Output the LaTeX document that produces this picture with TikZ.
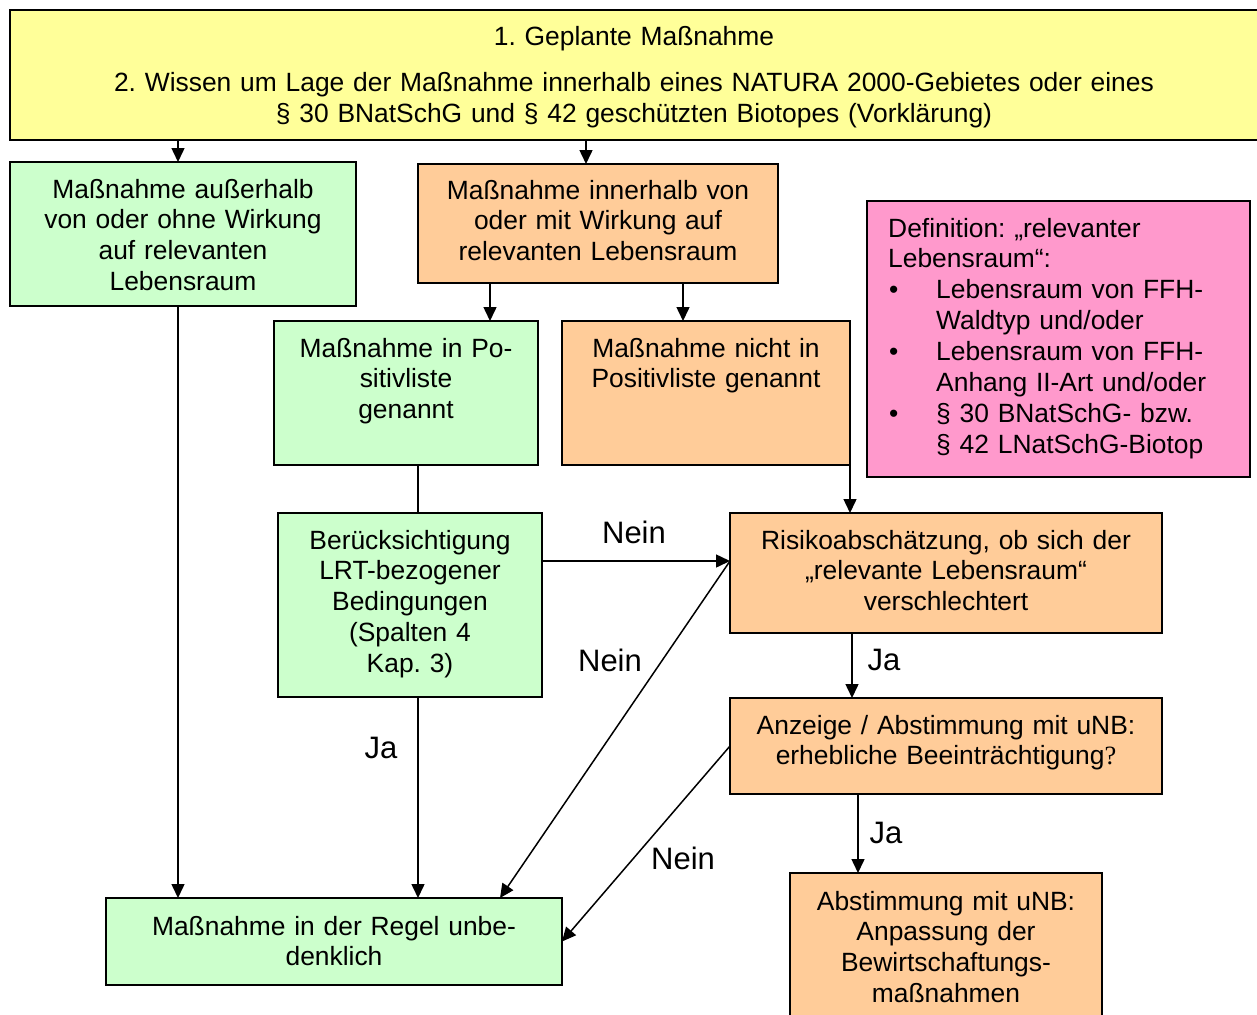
\documentclass[tikz,border=0pt]{standalone}
\usepackage{fontspec}
\setmainfont{Liberation Sans}
\newfontfamily\qfont{Liberation Serif}
\usetikzlibrary{arrows.meta}
\definecolor{cyellow}{HTML}{FFFF99}
\definecolor{cgreen}{HTML}{CCFFCC}
\definecolor{corange}{HTML}{FFCC99}
\definecolor{cpink}{HTML}{FF99CC}
\newcommand\pbul{\makebox[48pt][l]{\hspace*{1pt}•}}
\newcommand\pind{\hspace*{48pt}}
\frenchspacing
\begin{document}
\begin{tikzpicture}[x=1pt,y=-1pt,
  box/.style={draw=black, line width=1.7pt, anchor=north west, inner sep=0pt, outer sep=0pt},
  txt/.style={anchor=base, align=center, inner sep=0pt, font=\fontsize{26.4}{30.9}\selectfont\frenchspacing},
  arr/.style={line width=1.5pt, -{Triangle[length=14pt,width=13pt]}},
  conn/.style={line width=1.5pt},
  lbl/.style={font=\fontsize{31}{36}\selectfont, inner sep=0pt}]
\useasboundingbox (0,0) rectangle (1257,1014);
\clip (0,0) rectangle (1257,1014);

% boxes
\node[box, fill=cyellow, minimum width=1252pt, minimum height=130pt] (top) at (10,10) {};
\node[box, fill=cgreen, minimum width=346pt, minimum height=144pt] (g1) at (10,162) {};
\node[box, fill=corange, minimum width=360pt, minimum height=119pt] (o1) at (418,164) {};
\node[box, fill=cpink, minimum width=383pt, minimum height=276pt] (p) at (867,201) {};
\node[box, fill=cgreen, minimum width=264pt, minimum height=144pt] (g2) at (274,321) {};
\node[box, fill=corange, minimum width=288pt, minimum height=144pt] (o2) at (562,321) {};
\node[box, fill=cgreen, minimum width=264pt, minimum height=184pt] (g3) at (278,513) {};
\node[box, fill=corange, minimum width=432pt, minimum height=120pt] (o3) at (730,513) {};
\node[box, fill=corange, minimum width=432pt, minimum height=96pt] (o4) at (730,698) {};
\node[box, fill=corange, minimum width=312pt, minimum height=160pt] (o5) at (790,873) {};
\node[box, fill=cgreen, minimum width=456pt, minimum height=87pt] (g4) at (106,898) {};

% texts
\node[txt, text width=1200pt] (ttop) at (634,46) {1. Geplante Maßnahme\\[14.3pt]2. Wissen um Lage der Maßnahme innerhalb eines NATURA 2000-Gebietes oder eines\\§ 30 BNatSchG und § 42 geschützten Biotopes (Vorklärung)};
\node[txt, text width=340pt] (tg1) at ([yshift=-36pt]g1.north) {Maßnahme außerhalb\\von oder ohne Wirkung\\auf relevanten\\Lebensraum};
\node[txt, text width=350pt] (to1) at ([yshift=-35pt]o1.north) {Maßnahme innerhalb von\\oder mit Wirkung auf\\relevanten Lebensraum};
\node[txt, align=left, anchor=base west, text width=370pt] (tp) at (888,237) {Definition: „relevanter\\Lebensraum“:\\\pbul Lebensraum von FFH-\\\pind Waldtyp und/oder\\\pbul Lebensraum von FFH-\\\pind Anhang II-Art und/oder\\\pbul § 30 BNatSchG- bzw.\\\pind § 42 LNatSchG-Biotop};
\node[txt, text width=256pt] (tg2) at ([yshift=-36pt]g2.north) {Maßnahme in Po-\\sitivliste\\genannt};
\node[txt, text width=280pt] (to2) at ([yshift=-36pt]o2.north) {Maßnahme nicht in\\Positivliste genannt};
\node[txt, text width=256pt] (tg3) at ([yshift=-36pt]g3.north) {Berücksichtigung\\LRT-bezogener\\Bedingungen\\(Spalten 4\\Kap. 3)};
\node[txt, text width=424pt] (to3) at ([yshift=-36pt]o3.north) {Risikoabschätzung, ob sich der\\„relevante Lebensraum“\\verschlechtert};
\node[txt, text width=424pt] (to4) at ([yshift=-36pt]o4.north) {Anzeige / Abstimmung mit uNB:\\erhebliche Beeinträchtigung{\qfont ?}};
\node[txt, text width=304pt] (to5) at ([yshift=-37pt]o5.north) {Abstimmung mit uNB:\\Anpassung der\\Bewirtschaftungs-\\maßnahmen};
\node[txt, text width=448pt] (tg4) at ([yshift=-37pt]g4.north) {Maßnahme in der Regel unbe-\\denklich};

% connectors
\draw[arr] (top.south -| 178,0) -- (g1.north -| 178,0);
\draw[arr] (top.south -| 586,0) -- (o1.north -| 586,0);
\draw[arr] (o1.south -| 490,0) -- (g2.north -| 490,0);
\draw[arr] (o1.south -| 683,0) -- (o2.north -| 683,0);
\draw[conn] (g2.south -| 418,0) -- (g3.north -| 418,0);
\draw[arr] (o2.south east) -- (o3.north -| o2.south east);
\draw[arr] (g3.east |- 0,561) -- (o3.west |- 0,561);
\draw[arr] (o3.west |- 0,561) -- (g4.north -| 500,0);
\draw[arr] (g1.south -| 178,0) -- (g4.north -| 178,0);
\draw[arr] (g3.south -| 418,0) -- (g4.north -| 418,0);
\draw[arr] (o3.south -| 852,0) -- (o4.north -| 852,0);
\draw[arr] (o4.west) -- (g4.east);
\draw[arr] (o4.south -| 858,0) -- (o5.north -| 858,0);

% labels
\node[lbl] (l1) at (634,532) {Nein};
\node[lbl] (l2) at (610,660) {Nein};
\node[lbl] (l3) at (381,748) {Ja};
\node[lbl] (l4) at (884,660) {Ja};
\node[lbl] (l5) at (683,858) {Nein};
\node[lbl] (l6) at (886,833) {Ja};
\end{tikzpicture}
\end{document}
